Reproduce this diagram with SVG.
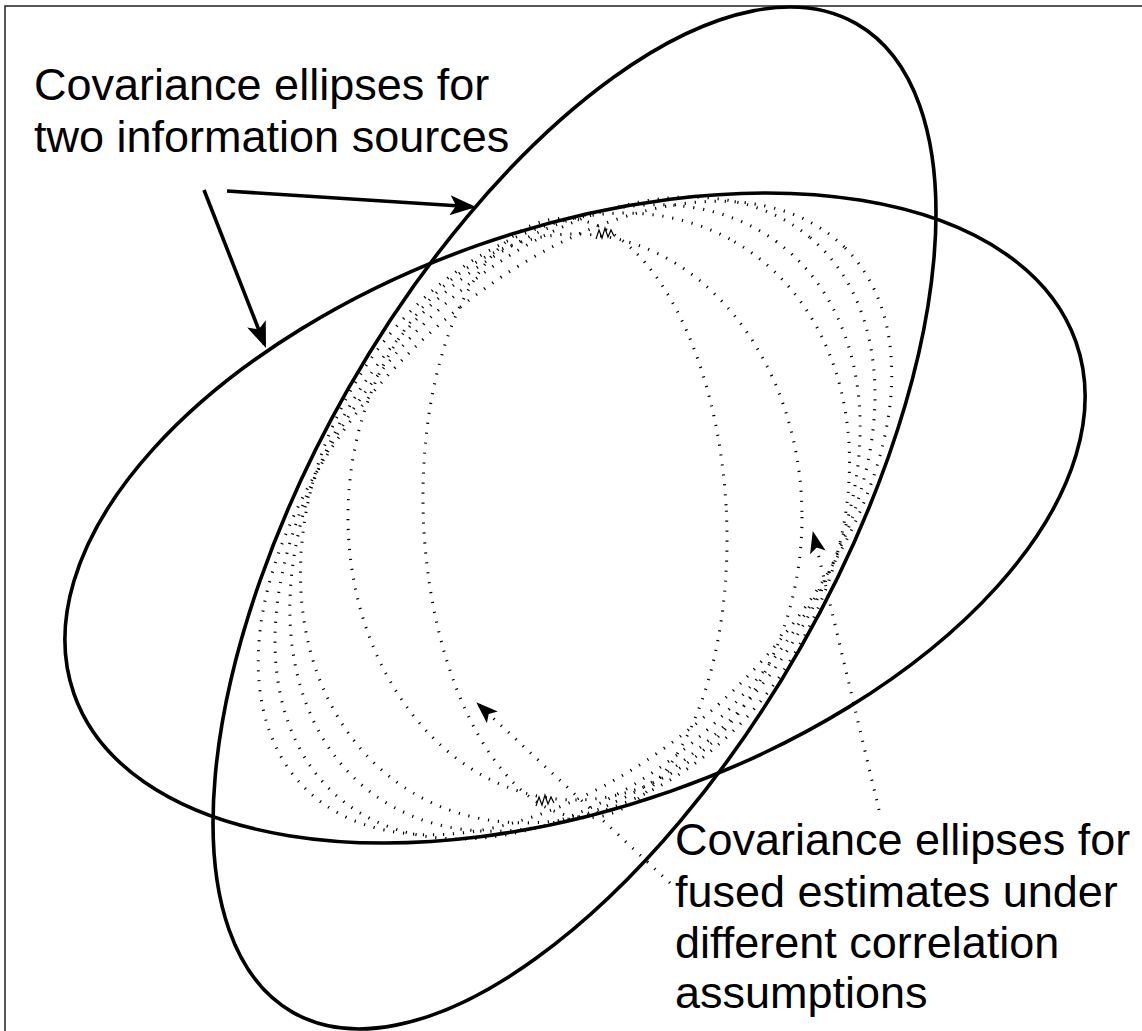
<svg xmlns="http://www.w3.org/2000/svg" width="1142" height="1031" viewBox="0 0 1142 1031">
  <style>
    .frame { fill: none; stroke: #222; stroke-width: 1.5; }
    .src { fill: none; stroke: #000; stroke-width: 3.6; }
    .dot { fill: none; stroke: #000; stroke-width: 3; stroke-dasharray: 1.2 8.8; }
    .arrow { fill: none; stroke: #000; stroke-width: 3.6; }
    .leader { fill: none; stroke: #000; stroke-width: 3; stroke-dasharray: 1.2 8.8; }
    .scribble { fill: none; stroke: #000; stroke-width: 1.2; }
    .lbl { font-family: "Liberation Sans", Arial, Helvetica, sans-serif; font-size: 45px; fill: #000; }
  </style>
  <defs>
    <marker id="ah" viewBox="0 0 26 20" markerWidth="26" markerHeight="20" refX="22" refY="10" orient="auto" markerUnits="userSpaceOnUse">
      <path d="M0,0 L26,10 L0,20 L6,10 Z" fill="#000"/>
    </marker>
    <marker id="ahs" viewBox="0 0 22 16" markerWidth="22" markerHeight="16" refX="21" refY="8" orient="auto" markerUnits="userSpaceOnUse">
      <path d="M0,0 L22,8 L0,16 L5,8 Z" fill="#000"/>
    </marker>
  </defs>
  <rect width="1142" height="1031" fill="#fff"/>
  <path class="frame" d="M5,1031 L5,6 L1142,6"/>

  <g id="source-ellipses">
    <g id="ellipse-a">
      <ellipse class="src" cx="574.5" cy="518" rx="569" ry="260.6" transform="rotate(-60.32 574.5 518)"/>
    </g>
    <g id="ellipse-b">
      <ellipse class="src" cx="575" cy="518" rx="531" ry="289.5" transform="rotate(-19.37 575 518)"/>
    </g>
  </g>

  <g id="fused-ellipses">
    <ellipse class="dot" cx="575" cy="518" rx="319" ry="258" transform="rotate(-60 575 518)"/>
    <ellipse class="dot" cx="575" cy="518" rx="342" ry="250" transform="rotate(-54 575 518)"/>
    <ellipse class="dot" cx="575" cy="518" rx="366" ry="243" transform="rotate(-50 575 518)"/>
    <ellipse class="dot" cx="575" cy="518" rx="382" ry="234" transform="rotate(-45 575 518)"/>
    <ellipse class="dot" cx="575" cy="517" rx="227" ry="283"/>
    <ellipse class="dot" cx="575" cy="518" rx="151.5" ry="300" transform="rotate(-2.8 575 518)"/>
    <path class="scribble" d="M596,239 l3,-9 3,8 3,-10 3,9 3,-7 3,6"/>
    <path class="scribble" d="M536,806 l3,-9 3,8 3,-10 3,9 3,-7 3,6"/>
  </g>

  <g id="label-sources">
    <text class="lbl" x="34" y="100">Covariance ellipses for</text>
    <text class="lbl" x="34" y="152">two information sources</text>
  </g>

  <g id="label-fused">
    <text class="lbl" x="675" y="855">Covariance ellipses for</text>
    <text class="lbl" x="675" y="907">fused estimates under</text>
    <text class="lbl" x="675" y="958">different correlation</text>
    <text class="lbl" x="675" y="1008">assumptions</text>
  </g>

  <g id="connectors">
    <line class="arrow" x1="227" y1="191" x2="472" y2="206.7" marker-end="url(#ah)"/>
    <line class="arrow" x1="204" y1="190" x2="264.5" y2="344.3" marker-end="url(#ah)"/>
    <line class="leader" x1="879" y1="810" x2="813" y2="532" marker-end="url(#ahs)"/>
    <line class="leader" x1="670" y1="883" x2="477" y2="703" marker-end="url(#ahs)"/>
  </g>
</svg>
